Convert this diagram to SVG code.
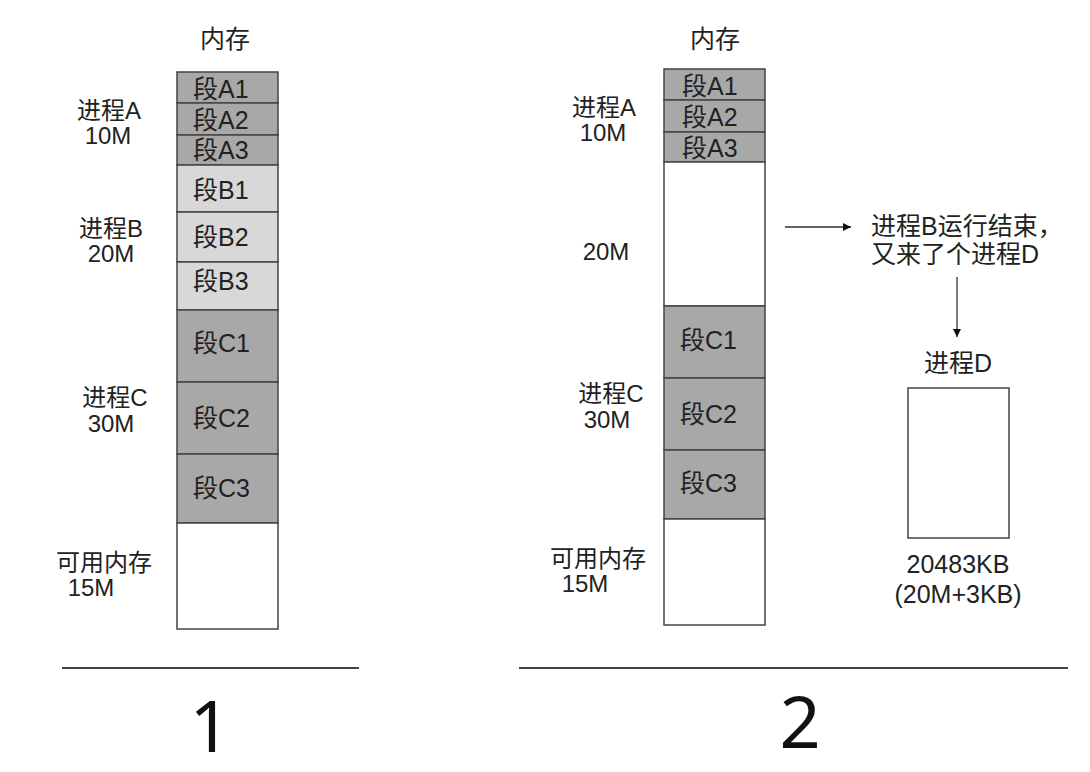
<svg xmlns="http://www.w3.org/2000/svg" width="1090" height="772" viewBox="0 0 1090 772">
<style>
text{font-family:"Liberation Sans","Noto Sans CJK SC",sans-serif;font-size:25px;fill:#222}
.c{text-anchor:middle}
.lbl{font-size:24px}
.seg{stroke:#444;stroke-width:1.5}
.dark{fill:#a8a8a8}
.light{fill:#d8d8d8}
.free{fill:#fff}
.num{font-family:"Noto Sans","Open Sans",sans-serif;font-size:72px;fill:#111;text-anchor:middle}
.rule{stroke:#444;stroke-width:2}
.conn{stroke:#333;stroke-width:1.3;fill:none}
</style>
<defs>
<marker id="ah" viewBox="0 0 10 10" refX="10" refY="5" markerWidth="8" markerHeight="8" markerUnits="userSpaceOnUse" orient="auto">
<path d="M0,0 L10,5 L0,10 z" fill="#111"/>
</marker>
</defs>
<rect width="1090" height="772" fill="#fff"/>

<g id="memory1">
<text class="c" x="225" y="48">内存</text>
<g id="m1-A1"><rect class="seg dark" x="177" y="72" width="101" height="31"/><text x="193" y="98">段A1</text></g>
<g id="m1-A2"><rect class="seg dark" x="177" y="103" width="101" height="32"/><text x="193" y="129">段A2</text></g>
<g id="m1-A3"><rect class="seg dark" x="177" y="135" width="101" height="30"/><text x="193" y="159">段A3</text></g>
<g id="m1-B1"><rect class="seg light" x="177" y="165" width="101" height="47"/><text x="193" y="199">段B1</text></g>
<g id="m1-B2"><rect class="seg light" x="177" y="212" width="101" height="50"/><text x="193" y="246">段B2</text></g>
<g id="m1-B3"><rect class="seg light" x="177" y="262" width="101" height="48"/><text x="193" y="290">段B3</text></g>
<g id="m1-C1"><rect class="seg dark" x="177" y="310" width="101" height="72"/><text x="193" y="352">段C1</text></g>
<g id="m1-C2"><rect class="seg dark" x="177" y="382" width="101" height="72"/><text x="193" y="427">段C2</text></g>
<g id="m1-C3"><rect class="seg dark" x="177" y="454" width="101" height="69"/><text x="193" y="497">段C3</text></g>
<g id="m1-free"><rect class="seg free" x="177" y="523" width="101" height="106"/></g>
<g id="m1-labels">
<text class="c lbl" x="109" y="119">进程A</text><text class="c lbl" x="108" y="144">10M</text>
<text class="c lbl" x="111" y="237">进程B</text><text class="c lbl" x="111" y="262">20M</text>
<text class="c lbl" x="115" y="406">进程C</text><text class="c lbl" x="111" y="432">30M</text>
<text class="c lbl" x="104" y="571">可用内存</text><text class="c lbl" x="91" y="596">15M</text>
</g>
<line class="rule" x1="62" y1="668" x2="359" y2="668"/>
<text class="num" x="210" y="752">1</text>
</g>

<g id="memory2">
<text class="c" x="715" y="48">内存</text>
<g id="m2-A1"><rect class="seg dark" x="664" y="69" width="101" height="31"/><text x="682" y="95">段A1</text></g>
<g id="m2-A2"><rect class="seg dark" x="664" y="100" width="101" height="32"/><text x="682" y="126">段A2</text></g>
<g id="m2-A3"><rect class="seg dark" x="664" y="132" width="101" height="30"/><text x="682" y="157">段A3</text></g>
<g id="m2-free20"><rect class="seg free" x="664" y="162" width="101" height="144"/></g>
<g id="m2-C1"><rect class="seg dark" x="664" y="306" width="101" height="72"/><text x="680" y="349">段C1</text></g>
<g id="m2-C2"><rect class="seg dark" x="664" y="378" width="101" height="72"/><text x="680" y="423">段C2</text></g>
<g id="m2-C3"><rect class="seg dark" x="664" y="450" width="101" height="69"/><text x="680" y="492">段C3</text></g>
<g id="m2-free"><rect class="seg free" x="664" y="519" width="101" height="106"/></g>
<g id="m2-labels">
<text class="c lbl" x="604" y="116">进程A</text><text class="c lbl" x="603" y="141">10M</text>
<text class="c lbl" x="606" y="260">20M</text>
<text class="c lbl" x="611" y="402">进程C</text><text class="c lbl" x="607" y="428">30M</text>
<text class="c lbl" x="598" y="567">可用内存</text><text class="c lbl" x="585" y="592">15M</text>
</g>
<line class="rule" x1="519" y1="668" x2="1068" y2="668"/>
<text class="num" x="800" y="748">2</text>
</g>

<g id="event">
<text x="871" y="235">进程B运行结束，</text>
<text x="871" y="263">又来了个进程D</text>
</g>

<g id="processD">
<text class="c" x="958" y="372">进程D</text>
<rect x="908" y="388" width="101" height="150" fill="#fff" stroke="#444" stroke-width="1.5"/>
<text class="c" x="958" y="573">20483KB</text>
<text class="c" x="958" y="603">(20M+3KB)</text>
</g>

<g id="connectors">
<line class="conn" x1="785" y1="227" x2="851" y2="227" marker-end="url(#ah)"/>
<line class="conn" x1="957" y1="277" x2="957" y2="337" marker-end="url(#ah)"/>
</g>
</svg>
